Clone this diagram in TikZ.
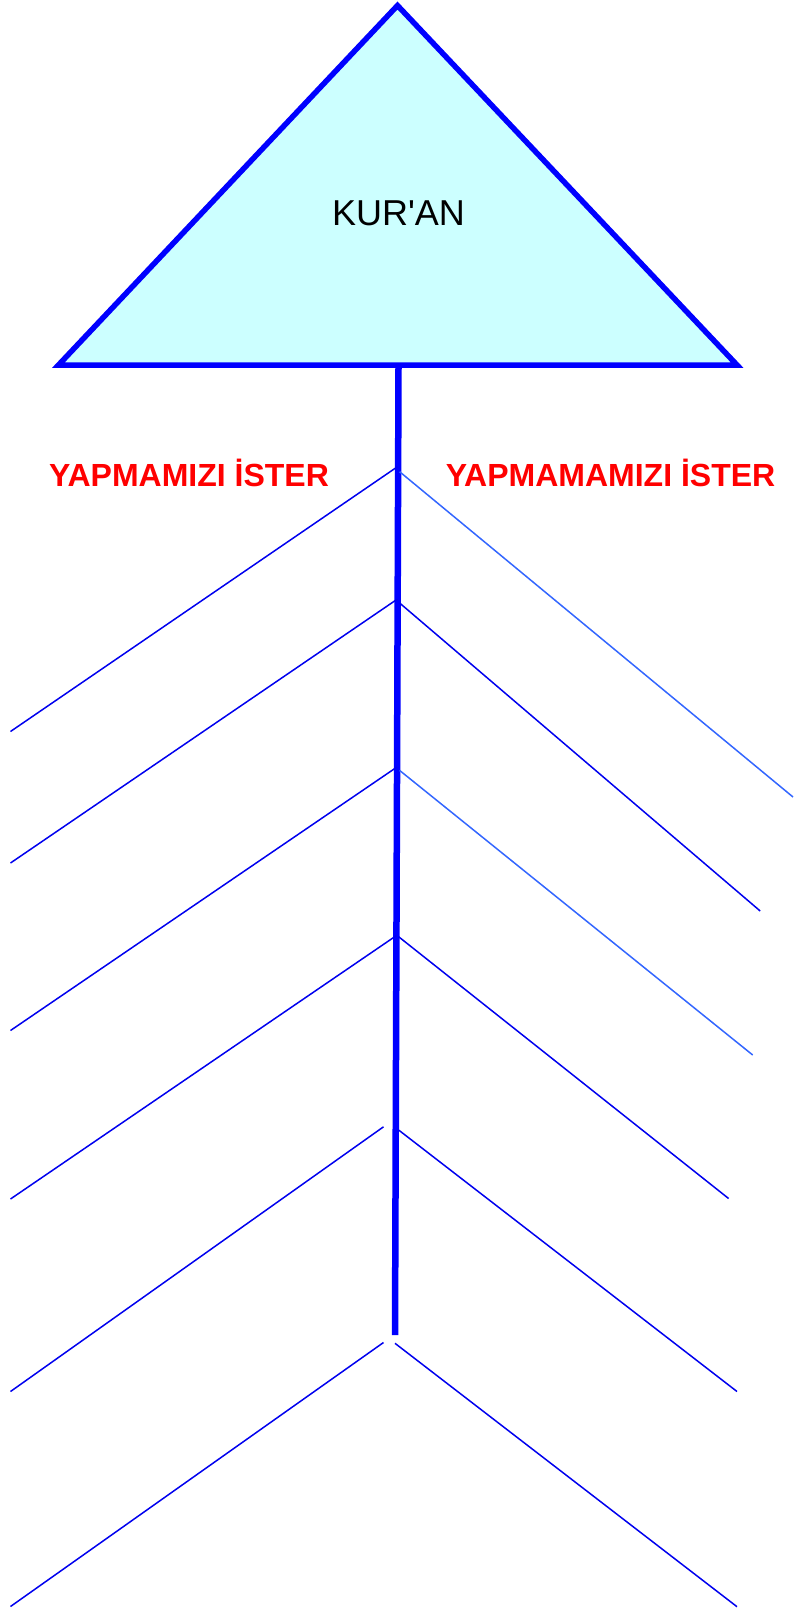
\documentclass[tikz,border=0pt]{standalone}
\usepackage{fontspec}
\setmainfont{Liberation Sans}
\definecolor{tri}{HTML}{CCFFFF}
\definecolor{mainblue}{HTML}{0000FF}
\definecolor{darkb}{HTML}{0000EE}
\definecolor{lightb}{HTML}{3366FF}
\definecolor{lab}{HTML}{FF0000}
\tikzset{
  branch/.style={draw=darkb, line width=1.5pt},
  lbranch/.style={draw=lightb, line width=1.5pt},
  heading/.style={text=lab, font=\bfseries\fontsize{32pt}{32pt}\selectfont, inner sep=0pt, anchor=base},
}
\begin{document}
\begin{tikzpicture}[x=1pt,y=-1pt]
\useasboundingbox (0,0) rectangle (793,1611);
% triangle
\coordinate (apex) at (397.5,5.5);
\coordinate (bl) at (58.5,365);
\coordinate (br) at (737,365);
\draw[fill=tri, draw=mainblue, line width=5.5pt, line join=miter] (apex) -- (br) -- (bl) -- cycle;
\node[font=\fontsize{36pt}{36pt}\selectfont, inner sep=0pt] (kuran) at (398.5,213) {KUR\textquotesingle AN};
% spine
\coordinate (st) at (398.5,367.5);
\coordinate (sb) at (395,1335);
\draw[draw=mainblue, line width=6.5pt] (st) -- (sb);
% headings
\node[heading] (yap) at (189,486) {YAPMAMIZI İSTER};
\node[heading] (yapma) at (610.5,486) {YAPMAMAMIZI İSTER};
% left branches
\coordinate (l1a) at (397.5,466.7); \coordinate (l1b) at (10.5,731.5);
\coordinate (l2a) at (397.5,599);   \coordinate (l2b) at (10.5,863);
\coordinate (l3a) at (397,767);     \coordinate (l3b) at (10.5,1030.5);
\coordinate (l4a) at (396.5,935.5); \coordinate (l4b) at (10.5,1199);
\coordinate (l5a) at (383.5,1126.8);\coordinate (l5b) at (10.5,1391.5);
\coordinate (l6a) at (383.5,1342.5);\coordinate (l6b) at (10.5,1606.5);
\draw[branch] (l1a) -- (l1b);
\draw[branch] (l2a) -- (l2b);
\draw[branch] (l3a) -- (l3b);
\draw[branch] (l4a) -- (l4b);
\draw[branch] (l5a) -- (l5b);
\draw[branch] (l6a) -- (l6b);
% right branches
\coordinate (r1a) at (399.6,471.7); \coordinate (r1b) at (793,797);
\coordinate (r2a) at (399.6,603);   \coordinate (r2b) at (760.2,911);
\coordinate (r3a) at (399.6,770.4); \coordinate (r3b) at (752.7,1055);
\coordinate (r4a) at (398.6,936.7); \coordinate (r4b) at (728.6,1198.5);
\coordinate (r5a) at (398.6,1130);  \coordinate (r5b) at (737,1391.5);
\coordinate (r6a) at (395,1343.3);  \coordinate (r6b) at (737,1606.7);
\draw[lbranch] (r1a) -- (r1b);
\draw[branch] (r2a) -- (r2b);
\draw[lbranch] (r3a) -- (r3b);
\draw[branch] (r4a) -- (r4b);
\draw[branch] (r5a) -- (r5b);
\draw[branch] (r6a) -- (r6b);
\end{tikzpicture}
\end{document}
